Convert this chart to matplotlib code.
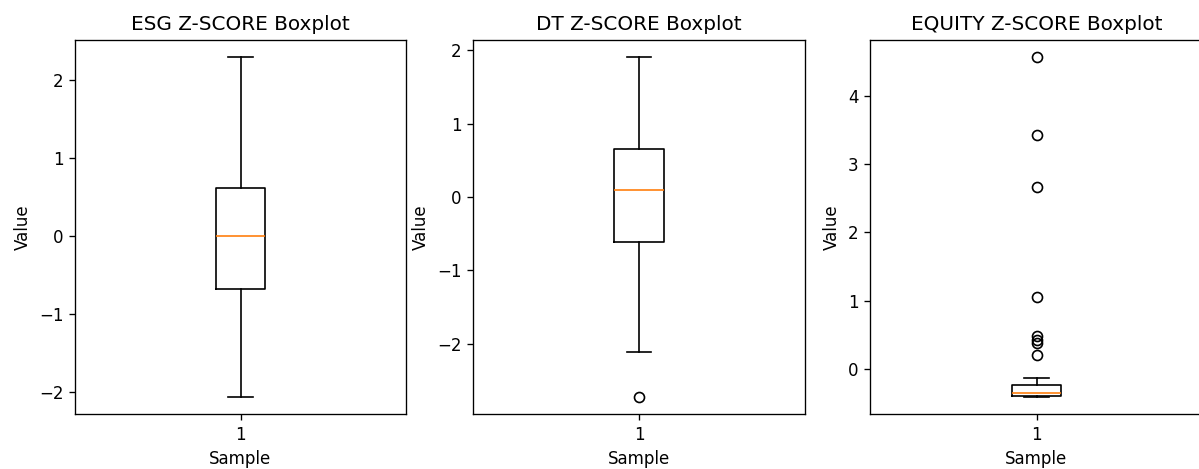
import matplotlib
matplotlib.use("Agg")
import matplotlib.pyplot as plt

# Box statistics (z-scores)
TITLES = ['ESG Z-SCORE Boxplot', 'DT Z-SCORE Boxplot', 'EQUITY Z-SCORE Boxplot']

MEDIANS = [0.00, 0.10, -0.35]
Q1 = [-0.68, -0.62, -0.40]
Q3 = [0.61, 0.65, -0.23]
WHIS_LO = [-2.07, -2.12, -0.41]
WHIS_HI = [2.29, 1.91, -0.13]
FLIERS = [
    [],
    [-2.73],
    [4.57, 3.43, 2.67, 1.05, 0.48, 0.43, 0.38, 0.21],
]

# axes positions in pixels (left, width) on a 1199x469 canvas
W, H = 1199, 469
DPI = 120
AX_LEFT = [75, 473, 870]
AX_WIDTH = [331, 332, 333]
AX_TOP, AX_BOTTOM = 40, 414

fig = plt.figure(figsize=(W / DPI, H / DPI), dpi=DPI)

for i in range(3):
    ax = fig.add_axes([AX_LEFT[i] / W, (H - AX_BOTTOM) / H,
                       AX_WIDTH[i] / W, (AX_BOTTOM - AX_TOP) / H])
    stats = [{
        'med': MEDIANS[i],
        'q1': Q1[i],
        'q3': Q3[i],
        'whislo': WHIS_LO[i],
        'whishi': WHIS_HI[i],
        'fliers': FLIERS[i],
        'label': '1',
    }]
    ax.bxp(stats)
    ax.set_title(TITLES[i])
    ax.set_xlabel('Sample')
    ax.set_ylabel('Value')

fig.savefig('out.png', dpi=DPI)
